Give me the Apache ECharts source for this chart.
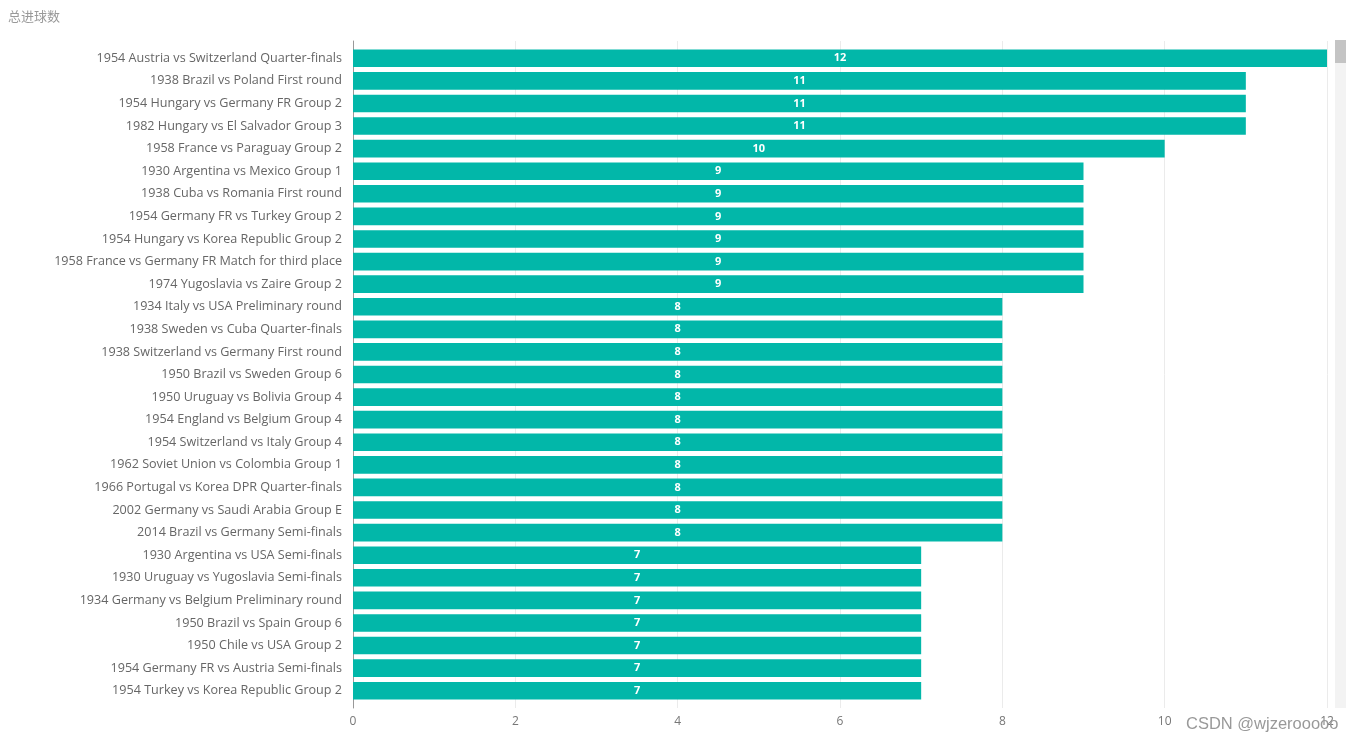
<!DOCTYPE html>
<html>
<head>
<meta charset="utf-8">
<script src="https://cdn.jsdelivr.net/npm/echarts@6/dist/echarts.min.js"></script>
<style>html,body{margin:0;padding:0;background:#fff;}#main{width:1354px;height:744px;}</style>
</head>
<body>
<div id="main"></div>
<script>
const titleText = '总进球数';
const matches = [
  '1954 Austria vs Switzerland Quarter-finals',
  '1938 Brazil vs Poland First round',
  '1954 Hungary vs Germany FR Group 2',
  '1982 Hungary vs El Salvador Group 3',
  '1958 France vs Paraguay Group 2',
  '1930 Argentina vs Mexico Group 1',
  '1938 Cuba vs Romania First round',
  '1954 Germany FR vs Turkey Group 2',
  '1954 Hungary vs Korea Republic Group 2',
  '1958 France vs Germany FR Match for third place',
  '1974 Yugoslavia vs Zaire Group 2',
  '1934 Italy vs USA Preliminary round',
  '1938 Sweden vs Cuba Quarter-finals',
  '1938 Switzerland vs Germany First round',
  '1950 Brazil vs Sweden Group 6',
  '1950 Uruguay vs Bolivia Group 4',
  '1954 England vs Belgium Group 4',
  '1954 Switzerland vs Italy Group 4',
  '1962 Soviet Union vs Colombia Group 1',
  '1966 Portugal vs Korea DPR Quarter-finals',
  '2002 Germany vs Saudi Arabia Group E',
  '2014 Brazil vs Germany Semi-finals',
  '1930 Argentina vs USA Semi-finals',
  '1930 Uruguay vs Yugoslavia Semi-finals',
  '1934 Germany vs Belgium Preliminary round',
  '1950 Brazil vs Spain Group 6',
  '1950 Chile vs USA Group 2',
  '1954 Germany FR vs Austria Semi-finals',
  '1954 Turkey vs Korea Republic Group 2'
];
const totalGoals = [12, 11, 11, 11, 10, 9, 9, 9, 9, 9, 9, 8, 8, 8, 8, 8, 8, 8, 8, 8, 8, 8, 7, 7, 7, 7, 7, 7, 7];
const xTicks = [0, 2, 4, 6, 8, 10, 12];
const watermark = 'CSDN @wjzerooooo';

const chart = echarts.init(document.getElementById('main'), null, {renderer: 'canvas'});
const font = '"Open Sans", "Noto Sans", sans-serif';
chart.setOption({
  animation: false,
  backgroundColor: '#fff',
  title: {
    text: titleText, left: 3, top: 5,
    textStyle: {fontSize: 13, fontWeight: 'normal', color: '#999', fontFamily: '"Noto Sans CJK SC", sans-serif'}
  },
  grid: [
    {left: 353, right: 27, top: 47, bottom: 42, containLabel: false},
    {left: 353, right: 27, top: 41, bottom: 36, containLabel: false}
  ],
  xAxis: [
    {gridIndex: 0, type: 'value', min: xTicks[0], max: xTicks[xTicks.length - 1], interval: 2, show: false},
    {gridIndex: 1, type: 'value', min: xTicks[0], max: xTicks[xTicks.length - 1], interval: 2,
      axisLine: {show: false}, axisTick: {show: false},
      axisLabel: {color: '#777', fontSize: 12, margin: 8, fontFamily: font},
      splitLine: {show: true, lineStyle: {color: '#ebebeb', width: 1}}
    }
  ],
  yAxis: [
    {gridIndex: 0, type: 'category', data: matches, inverse: true,
      axisLine: {show: false}, axisTick: {show: false},
      axisLabel: {color: '#666', fontSize: 12.6, margin: 11, fontFamily: font, interval: 0}
    },
    {gridIndex: 1, type: 'category', data: [''],
      axisLine: {show: true, lineStyle: {color: '#999', width: 1}},
      axisTick: {show: false}, axisLabel: {show: false}, splitLine: {show: false}
    }
  ],
  series: [{
    type: 'bar', xAxisIndex: 0, yAxisIndex: 0,
    data: totalGoals,
    barCategoryGap: '22%',
    itemStyle: {color: '#02b7a9'},
    label: {show: true, position: 'inside', color: '#fff', fontSize: 11, fontWeight: 'bold', fontFamily: font}
  }],
  graphic: [
    {type: 'rect', left: 1335, top: 40, shape: {width: 11, height: 668}, style: {fill: '#f3f3f3'}, z: 10},
    {type: 'rect', left: 1335, top: 40, shape: {width: 11, height: 23}, style: {fill: '#c4c4c4'}, z: 11},
    {type: 'text', left: 1186, top: 716, style: {text: watermark, fill: '#999', fontSize: 16.5, fontFamily: '"Liberation Sans", Arial, sans-serif'}, z: 20}
  ]
});
</script>
</body>
</html>
